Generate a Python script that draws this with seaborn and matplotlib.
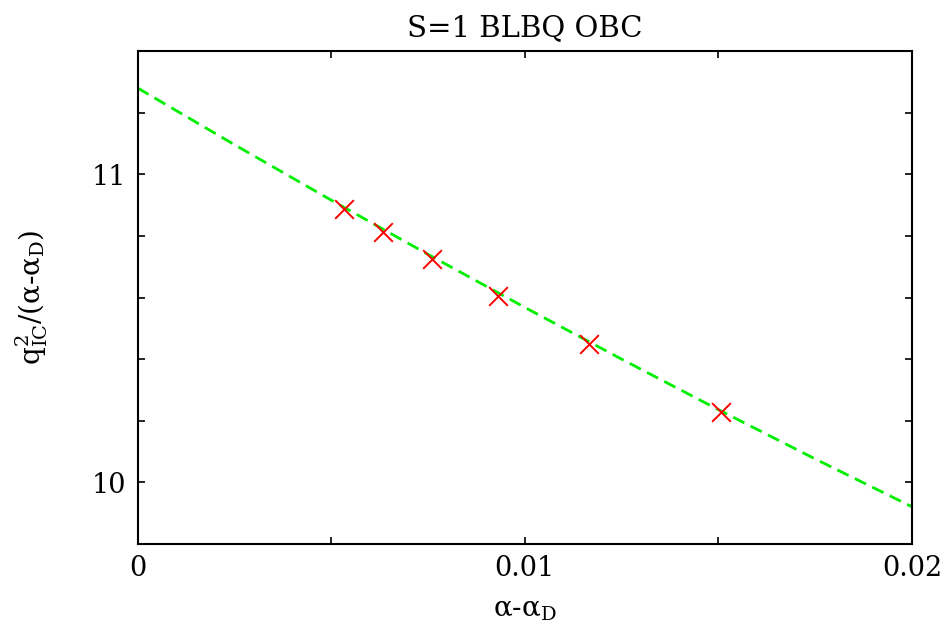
import matplotlib
matplotlib.use("Agg")
import matplotlib.pyplot as plt
import seaborn as sns
import pandas as pd
from matplotlib.ticker import FixedLocator

# data
x_pts = [0.005337, 0.006344, 0.007594, 0.009299, 0.011662, 0.015067]
y_pts = [10.889, 10.813, 10.725, 10.606, 10.450, 10.228]
x_fit = [0.0, 0.0025, 0.005, 0.0075, 0.01, 0.0125, 0.015, 0.0175, 0.02]
y_fit = [11.280, 11.096, 10.916, 10.740, 10.568, 10.400, 10.236, 10.076, 9.921]
x_ticks = [0, 0.01, 0.02]
x_ticklabels = ["0", "0.01", "0.02"]
x_minor = [0.005, 0.015]
y_ticks = [10, 11]
y_ticklabels = ["10", "11"]
y_minor = [10.2, 10.4, 10.6, 10.8, 11.2, 11.4]

sns.set_theme(style="white")
plt.rcParams["font.family"] = ["DejaVu Serif"]
plt.rcParams["mathtext.fontset"] = "custom"
plt.rcParams["mathtext.rm"] = "DejaVu Serif"
plt.rcParams["mathtext.it"] = "DejaVu Serif:italic"

fig = plt.figure(figsize=(9.48, 6.23), dpi=100)
ax = fig.add_axes([0.1453, 0.1268, 0.962 - 0.1453, 0.918 - 0.1268])

df_fit = pd.DataFrame({"x": x_fit, "y": y_fit})
df_pts = pd.DataFrame({"x": x_pts, "y": y_pts})

sns.lineplot(data=df_fit, x="x", y="y", ax=ax, color="#00ee00", lw=2.0,
             linestyle=(0, (4.5, 2.5)), sort=True, estimator=None)
sns.scatterplot(data=df_pts, x="x", y="y", ax=ax, marker="x", color="#ff0000",
                s=180, linewidth=1.4, zorder=5)

ax.set_xlim(0, 0.02)
ax.set_ylim(9.8, 11.4)

ax.xaxis.set_major_locator(FixedLocator(x_ticks))
ax.set_xticklabels(x_ticklabels)
ax.xaxis.set_minor_locator(FixedLocator(x_minor))
ax.yaxis.set_major_locator(FixedLocator(y_ticks))
ax.set_yticklabels(y_ticklabels)
ax.yaxis.set_minor_locator(FixedLocator(y_minor))

ax.tick_params(which="both", direction="in", top=True, right=True,
               bottom=True, left=True, length=5, width=1.2, color="black",
               labelsize=19.5, pad=8, labelcolor="black")

for s in ax.spines.values():
    s.set_color("black")
    s.set_linewidth(1.5)

ax.set_title("S=1 BLBQ OBC", fontsize=21, pad=11, color="black")
ax.set_xlabel(r"α-α$_\mathrm{D}$", fontsize=20, labelpad=10, color="black")
ax.set_ylabel(r"q$^2_\mathrm{IC}$/(α-α$_\mathrm{D}$)", fontsize=20, color="black")
ax.yaxis.set_label_coords(-0.113, 0.5)

fig.savefig("out.png", dpi=100)
